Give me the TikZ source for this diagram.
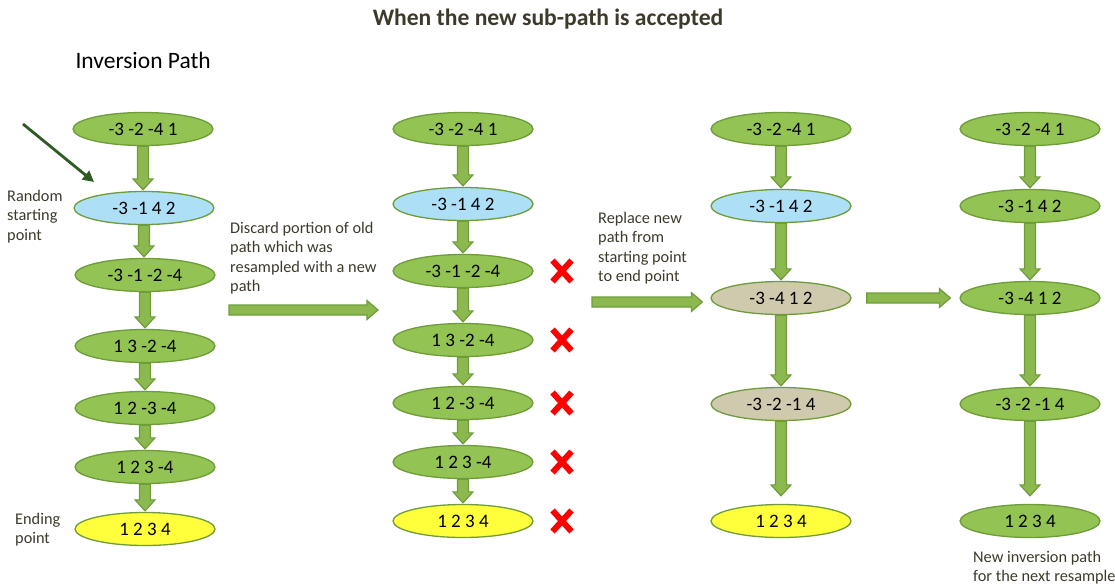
\documentclass[tikz,border=0pt]{standalone}
\usepackage{fontspec}
\setmainfont{Carlito}
\usetikzlibrary{calc,arrows.meta,shapes.geometric}

\definecolor{leaf}{HTML}{92C353}
\definecolor{leafedge}{HTML}{6E9C38}
\definecolor{skyfill}{HTML}{ADE0F7}
\definecolor{sandfill}{HTML}{CFCAAE}
\definecolor{lemon}{HTML}{FFFF3C}
\definecolor{labelink}{HTML}{3D3A2C}
\definecolor{pointer}{HTML}{2E5B23}
\definecolor{crossred}{HTML}{FF0000}

% block arrow pointing down from node #1 to node #2, tip lifted by #3
\newcommand\vconn[3]{%
  \draw[blockarrow] let \p1=(#1.south), \p2=(#2.north) in
    (\x1-5.5pt,\y1) -- (\x1-5.5pt,\y2+#3pt+11pt) -- (\x1-10pt,\y2+#3pt+11pt)
    -- (\x1,\y2+#3pt) -- (\x1+10pt,\y2+#3pt+11pt) -- (\x1+5.5pt,\y2+#3pt+11pt)
    -- (\x1+5.5pt,\y1) -- cycle;}
% block arrow pointing right from #1 to #2 (height of #1)
\newcommand\hconn[2]{%
  \draw[blockarrow] let \p1=#1, \p2=#2 in
    (\x1,\y1+5pt) -- (\x2-11pt,\y1+5pt) -- (\x2-11pt,\y1+9.5pt)
    -- (\x2,\y1) -- (\x2-11pt,\y1-9.5pt) -- (\x2-11pt,\y1-5pt)
    -- (\x1,\y1-5pt) -- cycle;}
% red cross mark
\newcommand\xmark[1]{%
  \draw[crossred, line width=6pt] ($(#1)+(-9.5,-10.5)$) -- ($(#1)+(9.5,10.5)$)
    ($(#1)+(-9.5,10.5)$) -- ($(#1)+(9.5,-10.5)$);}

\begin{document}
\begin{tikzpicture}[x=1pt,y=-1pt,
  state/.style={ellipse, draw=leafedge, line width=1.3pt, fill=leaf,
    minimum width=140pt, minimum height=33pt, inner sep=0pt,
    font=\fontsize{19}{21}\selectfont},
  startstate/.style={state, fill=skyfill},
  newstate/.style={state, fill=sandfill},
  endstate/.style={state, fill=lemon},
  blockarrow/.style={fill=leaf!95!black, draw=leafedge, line width=1.2pt, line join=miter},
  note/.style={anchor=north west, inner sep=0pt, align=left, text=labelink,
    font=\fontsize{16.3}{19.6}\selectfont}]
\useasboundingbox (0,0) rectangle (1115,586);

% headings
\node[text=labelink, font=\fontsize{23.6}{26}\selectfont\bfseries] (title) at (548,19) {When the new sub-path is accepted};
\node[anchor=west, font=\fontsize{23.5}{26}\selectfont] (heading) at (72,60) {Inversion Path};

% column 1: the current inversion path
\node[state]      (a1) at (143,129) {-3 -2 -4 1};
\node[startstate] (a2) at (144,208) {-3 -1 4 2};
\node[state]      (a3) at (145,275) {-3 -1 -2 -4};
\node[state]      (a4) at (145,346) {1 3 -2 -4};
\node[state]      (a5) at (145,408) {1 2 -3 -4};
\node[state]      (a6) at (145,467) {1 2 3 -4};
\node[endstate]   (a7) at (145,529) {1 2 3 4};
\vconn{a1}{a2}{1}
\vconn{a2}{a3}{1}
\vconn{a3}{a4}{1}
\vconn{a4}{a5}{1}
\vconn{a5}{a6}{1}
\vconn{a6}{a7}{1}

\node[note] (randomlbl) at (7,189.5) {Random\\starting\\point};
\node[note] (endlbl) at (15,512.5) {Ending\\point};
\coordinate (ptail) at (23,124);
\coordinate (phead) at (94,182);
\draw[pointer, line width=2.8pt, -{Triangle[length=11pt,width=11pt]}] (ptail) -- (phead);

% column 2: the part of the old path that is dropped
\node[state]      (b1) at (463,129) {-3 -2 -4 1};
\node[startstate] (b2) at (463,204) {-3 -1 4 2};
\node[state]      (b3) at (463,271) {-3 -1 -2 -4};
\node[state]      (b4) at (463,340) {1 3 -2 -4};
\node[state]      (b5) at (463,403) {1 2 -3 -4};
\node[state]      (b6) at (463,462) {1 2 3 -4};
\node[endstate]   (b7) at (463,521) {1 2 3 4};
\vconn{b1}{b2}{1}
\vconn{b2}{b3}{1}
\vconn{b3}{b4}{1}
\vconn{b4}{b5}{1}
\vconn{b5}{b6}{1}
\vconn{b6}{b7}{1}
\coordinate (x3) at (562,271);
\coordinate (x4) at (562,340);
\coordinate (x5) at (562,403);
\coordinate (x6) at (562,462);
\coordinate (x7) at (562,521);
\xmark{x3}\xmark{x4}\xmark{x5}\xmark{x6}\xmark{x7}

\node[note] (discardlbl) at (230,221.5) {Discard portion of old\\path which was\\resampled with a new\\path};
\coordinate (h1a) at (229,310);
\coordinate (h1b) at (378,310);
\hconn{(h1a)}{(h1b)}

% column 3: the new sub-path spliced in
\node[state]      (c1) at (781,129) {-3 -2 -4 1};
\node[startstate] (c2) at (781,206) {-3 -1 4 2};
\node[newstate]   (c3) at (781,298) {-3 -4 1 2};
\node[newstate]   (c4) at (781,404) {-3 -2 -1 4};
\node[endstate]   (c5) at (781,521) {1 2 3 4};
\vconn{c1}{c2}{1}
\vconn{c2}{c3}{1}
\vconn{c3}{c4}{1}
\vconn{c4}{c5}{8}

\node[note] (replacelbl) at (598,211.5) {Replace new\\path from\\starting point\\to end point};
\coordinate (h2a) at (592,302);
\hconn{(h2a)}{([xshift=-8pt]c3.west)}

% column 4: the resulting inversion path
\node[state] (d1) at (1030,129) {-3 -2 -4 1};
\node[state] (d2) at (1030,206) {-3 -1 4 2};
\node[state] (d3) at (1030,298) {-3 -4 1 2};
\node[state] (d4) at (1030,404) {-3 -2 -1 4};
\node[state] (d5) at (1030,521) {1 2 3 4};
\vconn{d1}{d2}{1}
\vconn{d2}{d3}{1}
\vconn{d3}{d4}{1}
\vconn{d4}{d5}{8}
\hconn{([xshift=15pt]c3.east)}{([xshift=-9pt]d3.west)}

\node[note] (resamplelbl) at (973,550.5) {New inversion path\\for the next resample};
\end{tikzpicture}
\end{document}
